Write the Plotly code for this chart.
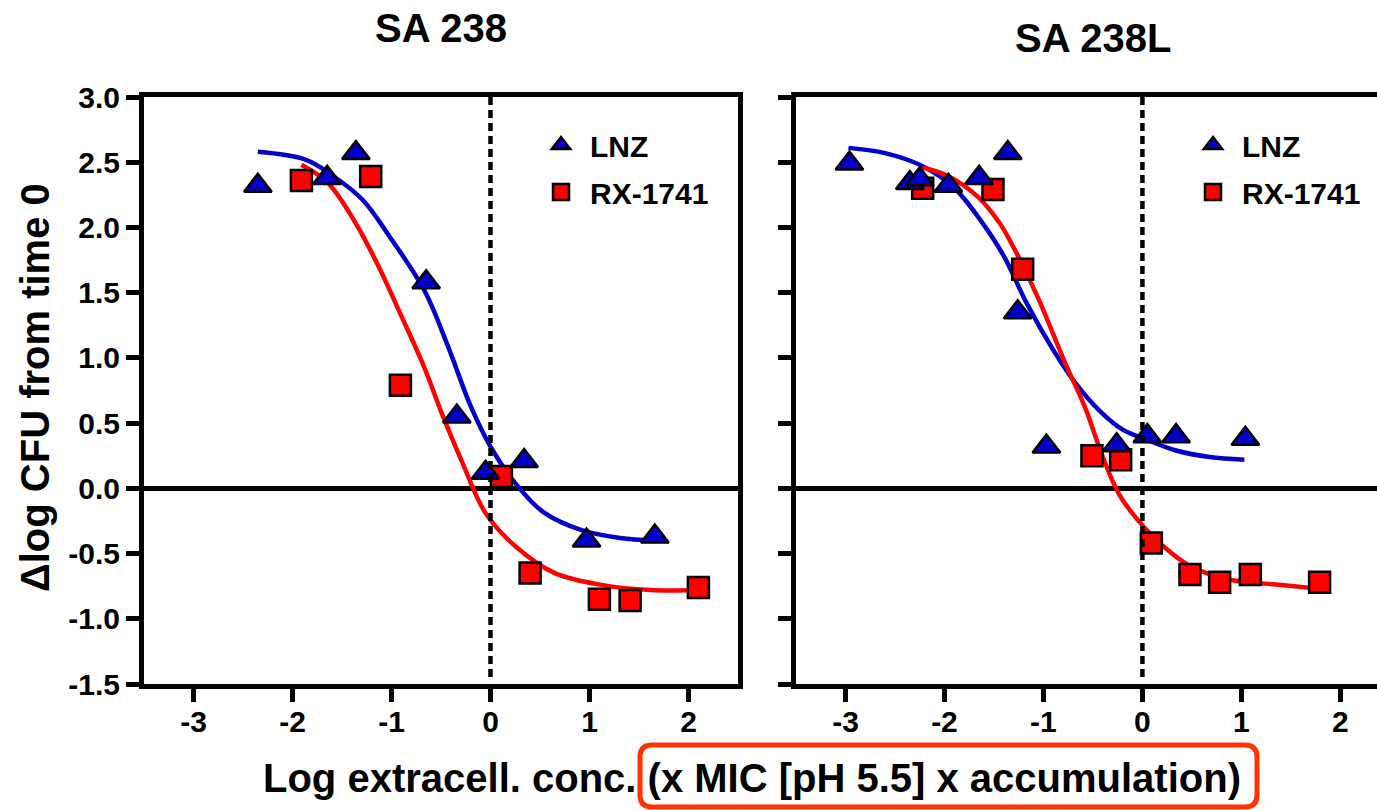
import plotly.graph_objects as go

W, H = 1377, 810

# ---------------- data ----------------
# SA 238
lnz_238_x = [-2.35, -1.65, -1.36, -0.65, -0.34, -0.05, 0.34, 0.97, 1.66]
lnz_238_y = [2.32, 2.38, 2.57, 1.58, 0.55, 0.12, 0.21, -0.40, -0.37]
rx_238_x = [-1.91, -1.21, -0.91, 0.11, 0.40, 1.10, 1.41, 2.10]
rx_238_y = [2.36, 2.39, 0.79, 0.09, -0.65, -0.85, -0.86, -0.76]

lnz_238_fit_x = [-2.35, -1.87, -1.60, -1.29, -1.02, -0.67, -0.43, -0.20, 0.00, 0.26, 0.53, 0.92, 1.31, 1.66]
lnz_238_fit_y = [2.58, 2.52, 2.40, 2.21, 1.93, 1.52, 1.09, 0.63, 0.32, 0.03, -0.18, -0.32, -0.38, -0.40]
rx_238_fit_x = [-1.91, -1.64, -1.36, -1.13, -0.90, -0.67, -0.50, -0.28, -0.05, 0.26, 0.65, 1.12, 1.62, 2.10]
rx_238_fit_y = [2.48, 2.34, 2.03, 1.70, 1.32, 0.93, 0.59, 0.19, -0.19, -0.45, -0.65, -0.74, -0.78, -0.78]

# SA 238L
lnz_238L_x = [-2.96, -2.35, -2.25, -1.96, -1.65, -1.36, -1.26, -0.97, -0.26, 0.05, 0.34, 1.04]
lnz_238L_y = [2.49, 2.34, 2.37, 2.32, 2.38, 2.57, 1.35, 0.32, 0.33, 0.40, 0.40, 0.38]
rx_238L_x = [-2.22, -1.51, -1.21, -0.51, -0.22, 0.09, 0.48, 0.78, 1.09, 1.79]
rx_238L_y = [2.30, 2.29, 1.68, 0.25, 0.22, -0.42, -0.66, -0.72, -0.66, -0.72]

lnz_238L_fit_x = [-2.97, -2.60, -2.22, -1.91, -1.64, -1.40, -1.17, -0.90, -0.67, -0.44, -0.20, 0.05, 0.34, 0.68, 1.03]
lnz_238L_fit_y = [2.61, 2.57, 2.47, 2.31, 2.06, 1.78, 1.42, 1.06, 0.80, 0.60, 0.45, 0.37, 0.29, 0.24, 0.22]
rx_238L_fit_x = [-2.22, -1.98, -1.67, -1.44, -1.29, -1.06, -0.78, -0.58, -0.40, -0.24, -0.05, 0.22, 0.49, 0.88, 1.38, 1.79]
rx_238L_fit_y = [2.46, 2.40, 2.24, 2.03, 1.83, 1.47, 0.96, 0.62, 0.24, -0.04, -0.24, -0.45, -0.60, -0.70, -0.74, -0.77]

x_ticks = [-3, -2, -1, 0, 1, 2]
x_tick_text = ["-3", "-2", "-1", "0", "1", "2"]
y_ticks = [-1.5, -1.0, -0.5, 0.0, 0.5, 1.0, 1.5, 2.0, 2.5, 3.0]
y_tick_text = ["-1.5", "-1.0", "-0.5", "0.0", "0.5", "1.0", "1.5", "2.0", "2.5", "3.0"]

panel_titles = ["SA 238", "SA 238L"]
series_names = ["LNZ", "RX-1741"]
x_title = "Log extracell. conc. (x MIC [pH 5.5] x accumulation)"
y_title = "Δlog CFU from time 0"

# ---------------- styling ----------------
BLUE = "#0000C8"
RED = "#FF0000"
FONT = "Liberation Sans, Arial, sans-serif"


def px_x(p):
    return p / W


def px_y(p):
    return 1 - p / H


fig = go.Figure()

panels = [
    dict(xa="x", ya="y", lx=lnz_238_x, ly=lnz_238_y, rx=rx_238_x, ry=rx_238_y,
         lfx=lnz_238_fit_x, lfy=lnz_238_fit_y, rfx=rx_238_fit_x, rfy=rx_238_fit_y, legend="legend"),
    dict(xa="x2", ya="y2", lx=lnz_238L_x, ly=lnz_238L_y, rx=rx_238L_x, ry=rx_238L_y,
         lfx=lnz_238L_fit_x, lfy=lnz_238L_fit_y, rfx=rx_238L_fit_x, rfy=rx_238L_fit_y, legend="legend2"),
]

for p in panels:
    fig.add_trace(go.Scatter(x=p["lfx"], y=p["lfy"], mode="lines", xaxis=p["xa"], yaxis=p["ya"],
                             line=dict(color=BLUE, width=4.5, shape="spline", smoothing=1),
                             showlegend=False, hoverinfo="skip"))
    fig.add_trace(go.Scatter(x=p["rfx"], y=p["rfy"], mode="lines", xaxis=p["xa"], yaxis=p["ya"],
                             line=dict(color=RED, width=4.5, shape="spline", smoothing=1),
                             showlegend=False, hoverinfo="skip"))
    fig.add_trace(go.Scatter(x=p["rx"], y=p["ry"], mode="markers", xaxis=p["xa"], yaxis=p["ya"],
                             name=series_names[1], legend=p["legend"], legendrank=2, legendgroup="rx",
                             marker=dict(symbol="square", size=21, color=RED,
                                         line=dict(color="black", width=2.5))))
    fig.add_trace(go.Scatter(x=p["lx"], y=p["ly"], mode="markers", xaxis=p["xa"], yaxis=p["ya"],
                             name=series_names[0], legend=p["legend"], legendrank=1, legendgroup="lnz",
                             marker=dict(symbol="triangle-up", size=24, color=BLUE,
                                         line=dict(color="black", width=2.5))))

axis_common = dict(showgrid=False, linecolor="black", linewidth=5, ticks="outside",
                   ticklen=13, tickwidth=5, tickcolor="black", automargin=False,
                   tickfont=dict(family=FONT, size=30, color="black", weight="bold"))

left_dom = [px_x(144), px_x(738)]
right_dom = [px_x(796), 1.0]
y_dom = [px_y(684), px_y(97)]

legend_common = dict(xanchor="left", yanchor="top", bgcolor="rgba(0,0,0,0)",
                     traceorder="grouped", tracegroupgap=5, itemwidth=48,
                     font=dict(family=FONT, size=30, color="black", weight="bold"))

fig.update_layout(
    width=W, height=H,
    template="none",
    margin=dict(l=0, r=0, t=0, b=0, autoexpand=False),
    paper_bgcolor="white", plot_bgcolor="white",
    font=dict(family=FONT, color="black"),
    xaxis=dict(domain=left_dom, range=[-3.5, 2.5], tickvals=x_ticks, ticktext=x_tick_text,
               zeroline=False, mirror=True, anchor="y", ticklabelstandoff=-6, **axis_common),
    yaxis=dict(domain=y_dom, range=[-1.5, 3.0], tickvals=y_ticks, ticktext=y_tick_text,
               zeroline=True, zerolinecolor="black", zerolinewidth=5, mirror=True,
               anchor="x", ticklabelstandoff=0, **axis_common),
    xaxis2=dict(domain=right_dom, range=[-3.5, 2.37], tickvals=x_ticks, ticktext=x_tick_text,
                zeroline=False, mirror=True, anchor="y2", ticklabelstandoff=-6, **axis_common),
    yaxis2=dict(domain=y_dom, range=[-1.5, 3.0], tickvals=y_ticks, showticklabels=False,
                zeroline=True, zerolinecolor="black", zerolinewidth=5, mirror=False,
                anchor="x2", **axis_common),
    legend=dict(x=px_x(532), y=px_y(119), **legend_common),
    legend2=dict(x=px_x(1184), y=px_y(119), **legend_common),
)

# vertical dotted reference lines at x = 0
for xa, ya in (("x", "y"), ("x2", "y2")):
    fig.add_shape(type="line", xref=xa, yref=f"{ya} domain", x0=0, x1=0, y0=0.012, y1=1.0,
                  line=dict(color="black", width=4.5, dash="8px,5px"), layer="above")

title_font = dict(family=FONT, size=40, color="black", weight="bold")
# panel titles
fig.add_annotation(text=panel_titles[0], xref="paper", yref="paper", x=px_x(441), y=px_y(28),
                   xanchor="center", yanchor="middle", showarrow=False, font=title_font)
fig.add_annotation(text=panel_titles[1], xref="paper", yref="paper", x=px_x(1093), y=px_y(38),
                   xanchor="center", yanchor="middle", showarrow=False, font=title_font)

# axis titles
fig.add_annotation(text=x_title, xref="paper", yref="paper", x=px_x(752), y=px_y(778),
                   xanchor="center", yanchor="middle", showarrow=False, font=title_font)
fig.add_annotation(text=y_title, xref="paper", yref="paper", x=px_x(35), y=px_y(388),
                   xanchor="center", yanchor="middle", textangle=-90, showarrow=False,
                   font=title_font)

# highlighted box around part of the x title (rounded rectangle)
x0, x1, y0, y1, r = px_x(640), px_x(1257), px_y(745), px_y(807), 12
rx_, ry_ = r / W, r / H
path = (f"M {x0 + rx_},{y0} L {x1 - rx_},{y0} Q {x1},{y0} {x1},{y0 - ry_} "
        f"L {x1},{y1 + ry_} Q {x1},{y1} {x1 - rx_},{y1} "
        f"L {x0 + rx_},{y1} Q {x0},{y1} {x0},{y1 + ry_} "
        f"L {x0},{y0 - ry_} Q {x0},{y0} {x0 + rx_},{y0} Z")
fig.add_shape(type="path", path=path, xref="paper", yref="paper",
              line=dict(color="#FF3300", width=5), fillcolor="rgba(0,0,0,0)")

fig.write_html("out.html", config={"displayModeBar": False},
               post_script="document.body.style.margin='0px';")
